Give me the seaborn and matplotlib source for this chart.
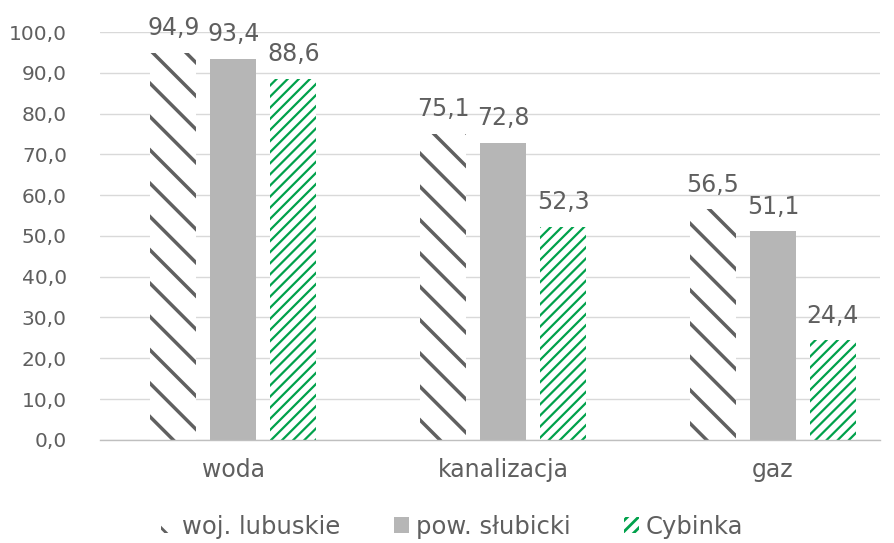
import matplotlib
matplotlib.use("Agg")
import matplotlib.pyplot as plt
import seaborn as sns
import pandas as pd
from matplotlib.patches import Patch

categories = ["woda", "kanalizacja", "gaz"]
series = ["woj. lubuskie", "pow. słubicki", "Cybinka"]
woj = [94.9, 75.1, 56.5]
pow_ = [93.4, 72.8, 51.1]
cyb = [88.6, 52.3, 24.4]
yticks = [0, 10, 20, 30, 40, 50, 60, 70, 80, 90, 100]

rows = []
for s, vals in zip(series, [woj, pow_, cyb]):
    for c, v in zip(categories, vals):
        rows.append({"cat": c, "series": s, "val": v})
df = pd.DataFrame(rows)

sns.set_theme(style="white")
plt.rcParams["font.family"] = ["DejaVu Sans"]
plt.rcParams["hatch.linewidth"] = 2.0

txt = "#5f5f5f"
fig = plt.figure(figsize=(8.95, 5.43), dpi=100)
ax = fig.add_axes([0.112, 0.19, 0.871, 0.751])

palette = {"woj. lubuskie": "white", "pow. słubicki": "#b6b6b6", "Cybinka": "white"}
sns.barplot(data=df, x="cat", y="val", hue="series", order=categories,
            hue_order=series, palette=palette, width=0.667, gap=0.233,
            ax=ax, legend=False, saturation=1, linewidth=0, errorbar=None)

hatches = ["\\", None, "///"]
hcolors = ["#606060", "#b6b6b6", "#00a14b"]
hlw = [2.5, 1.0, 1.6]


def style_patch(p, h, hc, lw):
    p.set_edgecolor(hc)
    p.set_linewidth(0)
    if h:
        p.set_hatch(h)
        if hasattr(p, "set_hatch_linewidth"):
            p.set_hatch_linewidth(lw)


for cont, h, hc, lw in zip(ax.containers, hatches, hcolors, hlw):
    for p in cont:
        style_patch(p, h, hc, lw)
    ax.bar_label(cont, labels=[f"{v:.1f}".replace(".", ",") for v in cont.datavalues],
                 padding=9, fontsize=17, color=txt)

ax.set_ylim(0, 100)
ax.set_xlim(-0.493, 2.396)
ax.set_yticks(yticks)
ax.set_yticklabels([f"{v:.1f}".replace(".", ",") for v in yticks], fontsize=14.5, color=txt)
ax.set_xticks(range(len(categories)))
ax.set_xticklabels(categories, fontsize=17, color=txt)
ax.tick_params(axis="x", length=0, pad=13)
ax.tick_params(axis="y", length=0, pad=24)
ax.set_xlabel("")
ax.set_ylabel("")
ax.yaxis.grid(True, color="#d9d9d9", linewidth=1)
ax.set_axisbelow(True)
for s in ["left", "right", "top"]:
    ax.spines[s].set_visible(False)
ax.spines["bottom"].set_color("#bfbfbf")
ax.spines["bottom"].set_linewidth(1)

handles = []
for h, hc, fc, lw in zip(hatches, hcolors, ["white", "#b6b6b6", "white"], hlw):
    p = Patch(facecolor=fc)
    style_patch(p, h, hc, lw)
    handles.append(p)
leg = fig.legend(handles, series, loc="center", bbox_to_anchor=(0.505, 0.03),
                 ncol=3, frameon=False, fontsize=17.5, handlelength=0.6, handleheight=0.6,
                 handletextpad=0.3, columnspacing=2.2)
for t in leg.get_texts():
    t.set_color(txt)

fig.savefig("out.png", dpi=100)
